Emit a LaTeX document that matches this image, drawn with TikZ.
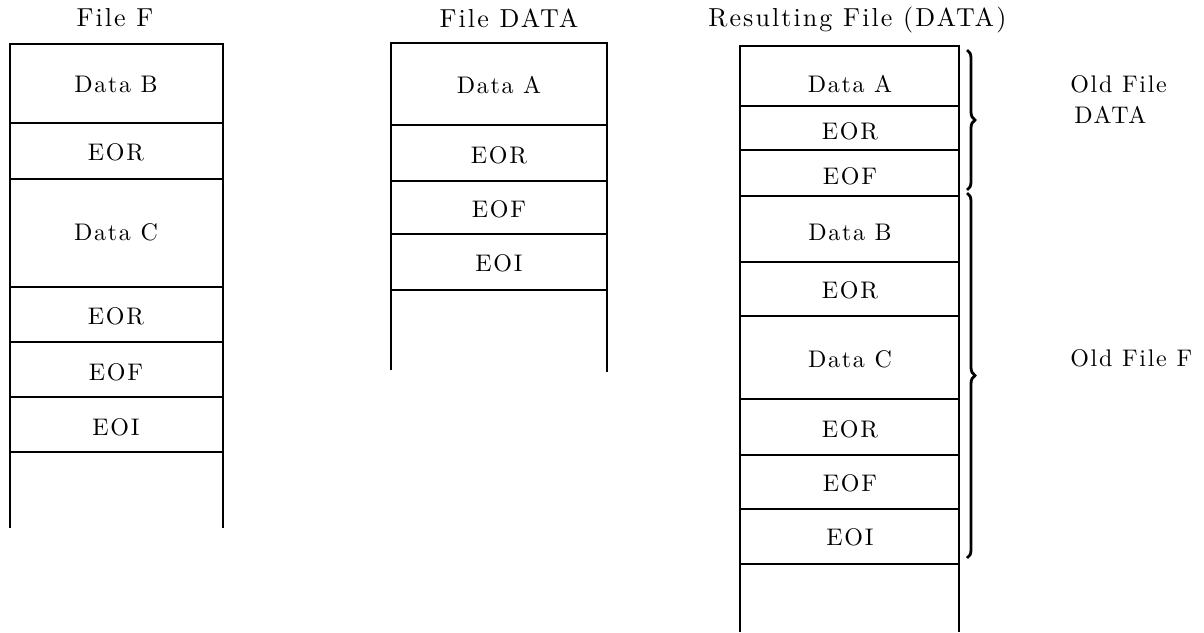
\documentclass[tikz,border=0pt]{standalone}
\usepackage{fontspec}
\usetikzlibrary{decorations.pathreplacing}
\newfontfamily\lmBody{lmroman10-regular}[Extension=.otf, LetterSpace=7]
\newfontfamily\lmTitle{lmroman10-regular}[Extension=.otf, LetterSpace=8]
\newcommand\myBody{\lmBody\fontsize{12}{14}\selectfont}
\newcommand\myTitle{\lmTitle\fontsize{13}{15}\selectfont}
\begin{document}
\begin{tikzpicture}[x=0.5pt,y=-0.5pt,
  rule/.style={line width=0.95pt},
  lbl/.style={inner sep=0pt, font=\myBody},
  ttl/.style={inner sep=0pt, font=\myTitle},
  brc/.style={decorate, decoration={brace, amplitude=4pt}, line width=1.4pt}]
\useasboundingbox (0,0) rectangle (1204,632);

% ---- titles
\node[ttl] (tF) at (115,18) {File F};
\node[ttl] (tD) at (509,18) {File DATA};
\node[ttl, anchor=west] (tR) at (708,20) {Resulting File (DATA)};

% ---- column File F
\draw[rule] (10,528) -- (10,44) -- (223,44) -- (223,528);
\foreach \y in {123,179,287,342,397,452} \draw[rule] (10,\y) -- (223,\y);
\node[lbl] (f1) at (116,84) {Data B};
\node[lbl] (f2) at (116,152) {EOR};
\node[lbl] (f3) at (116,232) {Data C};
\node[lbl] (f4) at (116,316) {EOR};
\node[lbl] (f5) at (116,372) {EOF};
\node[lbl] (f6) at (116,427) {EOI};

% ---- column File DATA
\draw[rule] (391,370) -- (391,43) -- (607,43) -- (607,372);
\foreach \y in {125,181,234,290} \draw[rule] (391,\y) -- (607,\y);
\node[lbl] (d1) at (499,85) {Data A};
\node[lbl] (d2) at (499,155) {EOR};
\node[lbl] (d3) at (499,209) {EOF};
\node[lbl] (d4) at (499,263) {EOI};

% ---- resulting column
\draw[rule] (740,632) -- (740,46) -- (959,46) -- (959,632);
\foreach \y in {106,150,196,262,316,399,455,509,564} \draw[rule] (740,\y) -- (959,\y);
\node[lbl] (r1) at (850,84) {Data A};
\node[lbl] (r2) at (850,131) {EOR};
\node[lbl] (r3) at (850,176) {EOF};
\node[lbl] (r4) at (850,232) {Data B};
\node[lbl] (r5) at (850,290) {EOR};
\node[lbl] (r6) at (850,359) {Data C};
\node[lbl] (r7) at (850,429) {EOR};
\node[lbl] (r8) at (850,483) {EOF};
\node[lbl] (r9) at (850,537) {EOI};

% ---- braces
\coordinate (b1s) at (967,50);
\coordinate (b1e) at (967,190);
\coordinate (b2s) at (967,193);
\coordinate (b2e) at (967,558);
\draw[brc] (b1s) -- (b1e);
\draw[brc] (b2s) -- (b2e);

% ---- side labels
\node[lbl, anchor=west] (o1) at (1070,84) {Old File};
\node[lbl, anchor=west] (o2) at (1074,115) {DATA};
\node[lbl, anchor=west] (o3) at (1070,358) {Old File F};
\end{tikzpicture}
\end{document}
